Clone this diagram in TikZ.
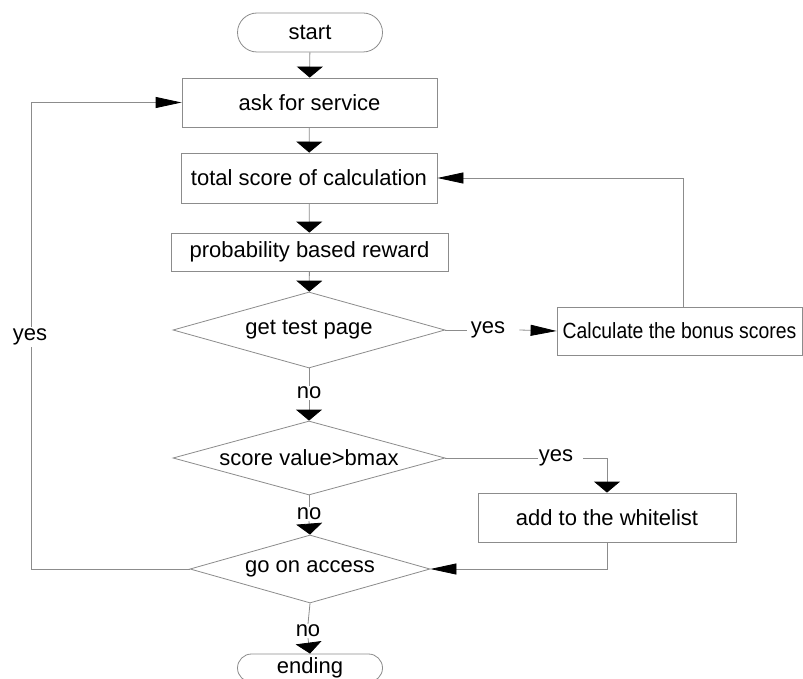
\documentclass[tikz,border=0pt]{standalone}
\usepackage{fontspec}
\setmainfont{Liberation Sans}
\usetikzlibrary{shapes.geometric,shapes.misc,arrows.meta}
\definecolor{linegray}{RGB}{140,140,140}
\begin{document}
\begin{tikzpicture}[x=1pt,y=-1pt,
  every node/.style={font=\fontsize{22}{26}\selectfont, inner sep=0pt},
  box/.style={draw=linegray, line width=0.8pt, rectangle},
  term/.style={draw=linegray, line width=0.8pt, rounded rectangle, minimum width=145pt},
  dia/.style={draw=linegray, line width=0.8pt, diamond},
  lab/.style={inner sep=1pt},
  conn/.style={draw=linegray, line width=0.8pt},
  varrow/.style={conn, -{Triangle[length=11pt,width=26pt,color=black]}},
  harrow/.style={conn, -{Triangle[length=26pt,width=11pt,color=black]}}]
\useasboundingbox (0,0) rectangle (803,679);
\clip (0,0) rectangle (803,679);
\fill[white] (0,0) rectangle (803,679);

% nodes
\node[term, minimum height=39pt] (start) at (310,32.5) {start};
\node[box, minimum width=255pt, minimum height=49pt] (ask) at (309.5,102.5) {ask for service};
\node[box, minimum width=256pt, minimum height=50pt] (total) at (309,178) {total score of calculation};
\node[box, minimum width=277pt, minimum height=38pt] (prob) at (309.5,252) {probability based reward};
\node[dia, aspect=3.58, minimum width=272pt, minimum height=76pt] (d1) at (309,330) {get test page};
\node[box, minimum width=245pt, minimum height=48pt] (calc) at (679.5,331) {\scalebox{0.88}[1]{Calculate the bonus scores}};
\node[dia, aspect=3.67, minimum width=272pt, minimum height=74pt] (d2) at (309,458) {score value>bmax};
\node[box, minimum width=258pt, minimum height=49pt] (wl) at (607,517.5) {add to the whitelist};
\node[dia, aspect=3.53, minimum width=240pt, minimum height=68pt] (d3) at (310,569) {go on access};
\node[term, minimum height=28pt] (end) at (310,668) {ending};

% labels
\node[lab] (yes1) at (488,330) {yes};
\node[lab] (no1) at (309,393) {no};
\node[lab] (yes2) at (556,458) {yes};
\node[lab] (no2) at (309,514) {no};
\node[lab] (no3) at (308,631) {no};
\coordinate (lx) at (31,0);
\coordinate (cx) at (683,0);

% connectors
\draw[varrow] (start) -- (ask);
\draw[varrow] (ask) -- (total);
\draw[varrow] (total) -- (prob);
\draw[varrow] (prob) -- (d1);
\draw[conn] (d1.east) -- ([xshift=-3pt]yes1.west);
\draw[harrow] ([xshift=13pt]yes1.east) -- (calc.west);
\draw[harrow] (calc.north -| cx) |- (total.east);
\draw[conn] (d1.south) -- (no1.north);
\draw[varrow] (no1.south) -- (d2.north);
\draw[conn] (d2.east) -- (yes2.west);
\draw[varrow] ([xshift=9pt]yes2.east) -| (wl.north);
\draw[harrow] (wl.south) |- (d3.east);
\draw[conn] (d2.south) -- (no2.north);
\draw[varrow] (no2.south) -- (d3.north);
\draw[conn] (d3.south) -- (no3.north);
\draw[varrow] (no3.south) -- (end.north);
\draw[harrow] (d3.west) -- (d3.west -| lx) |- (ask.west);
\node[lab, fill=white, inner sep=2pt] (yesL) at (30,337) {yes};
\end{tikzpicture}
\end{document}
